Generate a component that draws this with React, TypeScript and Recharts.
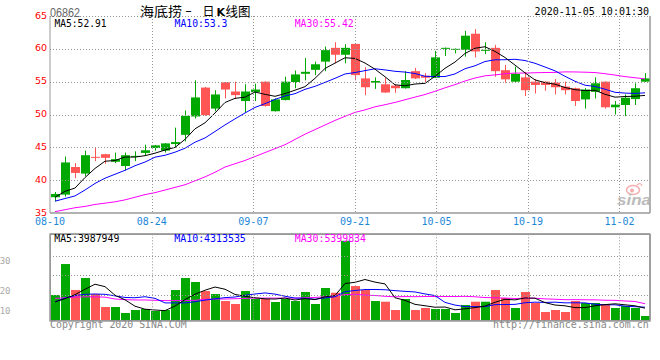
import React from 'react';
import { ComposedChart, Bar, Line, XAxis, YAxis, ReferenceArea } from 'recharts';

const dates = ['08-10','08-11','08-12','08-13','08-14','08-17','08-18','08-19','08-20','08-21','08-24','08-25','08-26','08-27','08-28','08-31','09-01','09-02','09-03','09-04','09-07','09-08','09-09','09-10','09-11','09-14','09-15','09-16','09-17','09-18','09-21','09-22','09-23','09-24','09-25','09-28','09-29','09-30','10-05','10-06','10-07','10-08','10-09','10-12','10-14','10-15','10-16','10-19','10-20','10-21','10-22','10-23','10-27','10-28','10-29','10-30','11-02','11-03','11-04','11-05'];

const opens = [37.4,37.8,42.0,41.0,43.55,43.95,42.8,42.15,43.6,44.15,44.9,44.5,45.5,46.9,49.7,54.1,50.9,54.9,53.5,52.05,53.4,55.0,50.5,52.2,54.95,56.2,56.8,58.05,60.15,59.1,60.75,55.5,54.85,54.6,54.4,54.0,56.6,55.9,55.6,60.0,59.85,59.85,62.3,59.7,60.15,56.75,55.0,55.65,55.0,55.0,54.85,54.25,54.0,52.3,53.45,55.0,51.1,51.45,52.35,55.0];
const closes = [37.9,42.7,41.1,43.8,43.45,43.4,43.2,43.8,43.7,44.55,45.3,45.6,45.8,49.8,52.6,49.9,53.05,53.8,52.95,53.5,53.8,51.3,52.3,55.0,56.1,56.5,57.65,59.8,59.1,60.15,56.0,54.15,55.1,53.35,54.0,55.25,55.5,55.6,58.7,60.15,60.0,62.0,59.6,59.85,56.6,55.35,56.2,53.7,54.5,54.5,54.15,53.7,52.05,53.8,54.75,51.1,51.5,52.55,54.0,55.5];
const highs = [38.2,43.6,42.6,44.5,44.9,44.0,44.2,44.2,44.4,45.4,45.35,45.65,48.0,50.6,55.2,54.2,53.7,54.95,55.0,54.6,54.7,55.05,52.45,55.75,56.7,58.6,58.05,60.35,61.0,60.7,60.8,57.2,55.65,55.6,54.6,56.6,57.1,56.3,59.7,60.2,60.05,62.75,63.0,61.0,60.6,57.55,57.3,56.5,55.4,55.05,55.4,55.0,54.1,54.0,55.65,55.05,52.05,53.05,54.75,56.3];
const lows = [36.8,37.5,40.3,40.6,42.9,42.5,42.6,41.5,42.9,43.8,44.5,44.2,45.0,45.9,49.4,49.8,50.5,52.45,52.35,50.3,52.05,51.2,50.45,52.15,54.0,55.2,56.0,56.6,57.8,57.8,55.2,52.95,53.9,53.3,53.3,53.95,55.4,54.9,55.55,58.9,59.3,58.8,58.7,59.2,55.75,54.85,54.95,52.8,53.2,53.6,53.05,53.05,51.3,50.9,52.45,50.9,50.0,49.75,51.45,54.95];

const ma5 = [37.4,38.3,38.8,40.4,41.79,42.89,42.99,43.53,43.51,43.73,44.11,44.59,44.99,46.21,47.82,48.74,50.23,51.83,52.46,52.64,53.42,53.07,52.77,53.18,53.7,54.24,55.51,57.01,57.83,58.64,58.54,57.84,56.9,55.75,54.52,54.37,54.64,54.74,55.81,57.04,57.99,59.29,60.09,60.32,59.61,58.68,57.52,56.34,55.27,54.85,54.61,54.11,53.78,53.64,53.69,53.08,52.64,52.74,52.78,52.91];
const ma10 = [36.8,37.2,37.6,38.5,39.5,40.3,40.9,41.5,42.2,42.76,43.5,43.79,44.26,44.86,45.78,46.43,47.41,48.41,49.34,50.23,51.08,51.65,52.3,52.82,53.17,53.83,54.29,54.89,55.51,56.17,56.39,56.68,56.96,56.79,56.58,56.46,56.24,55.82,55.78,55.78,56.18,56.97,57.42,58.07,58.33,58.34,58.41,58.22,57.8,57.23,56.65,55.82,55.06,54.46,54.27,53.85,53.38,53.26,53.21,53.3];
const ma30 = [35.2,35.5,35.8,36.0,36.3,36.5,36.7,37.0,37.4,37.8,38.1,38.5,38.9,39.3,39.9,40.5,41.2,42.0,42.5,43.0,43.6,44.2,44.8,45.4,46.2,47.0,47.7,48.4,49.1,49.72,50.32,50.7,51.17,51.49,51.84,52.24,52.65,53.04,53.54,54.06,54.55,55.1,55.56,55.89,56.03,56.21,56.31,56.31,56.36,56.39,56.41,56.49,56.48,56.44,56.39,56.21,56.01,55.77,55.6,55.42];

// volume, millions of shares
const volumes = [8.17,18.03,9.76,13.58,8.49,4.36,4.36,2.45,3.40,3.72,3.08,3.40,9.76,13.58,12.31,9.44,8.49,6.26,5.31,9.44,6.90,6.90,5.95,6.90,6.26,9.13,5.31,10.40,8.90,25.44,11.03,9.76,6.26,6.04,3.40,6.90,3.40,4.04,3.72,3.72,2.45,4.99,6.04,6.04,9.76,7.22,4.04,9.13,5.63,2.77,3.40,2.77,6.26,5.63,5.63,5.31,4.04,4.67,4.04,1.49];
const vma5 = [6.0,7.0,8.3,10.0,11.61,10.84,8.11,6.65,4.61,3.66,3.40,3.21,4.67,6.71,8.43,9.70,10.72,10.02,8.36,7.79,7.28,6.96,6.90,7.22,6.58,7.03,6.71,7.60,8.00,11.84,12.22,13.11,12.28,11.71,7.30,6.47,5.20,4.76,4.29,4.36,3.47,3.78,4.18,4.65,5.86,6.81,6.62,7.24,7.16,5.76,4.99,4.74,4.17,4.17,4.74,5.12,5.37,5.06,4.74,3.99];
const vma10 = [6.0,7.2,8.0,8.4,8.5,8.4,7.9,7.4,7.3,7.63,7.12,5.66,5.66,5.66,6.04,6.55,6.96,7.34,7.54,8.11,8.49,8.84,8.46,7.79,7.19,7.15,6.84,7.25,7.61,9.21,9.62,9.91,9.94,9.85,9.57,9.34,9.15,8.52,8.0,5.83,4.97,4.49,4.47,4.47,5.11,5.14,5.2,5.71,5.9,5.81,5.9,5.68,5.7,5.66,5.25,5.06,5.06,4.61,4.45,4.31];
const vma30 = [7.1,7.3,7.5,7.6,7.6,7.5,6.9,6.7,6.6,6.6,6.5,6.4,6.4,6.4,6.5,6.8,6.9,6.9,7.0,7.1,7.2,7.2,7.2,7.2,7.2,7.3,7.4,7.6,7.8,8.32,8.41,8.14,8.02,7.77,7.6,7.68,7.65,7.7,7.71,7.71,7.69,7.75,7.62,7.37,7.29,7.21,7.06,7.16,7.17,6.95,6.83,6.69,6.7,6.66,6.64,6.51,6.47,6.28,6.12,5.40];

const priceTicks = [35, 40, 45, 50, 55, 60, 65];
const dateTickIdx = [0, 10, 20, 30, 38, 47, 56];
const gridMax = 59;
const volMax = 27.5;
const volGridTicks = [8.2, 14.5, 20.7];
const volAxisLabels = ['30', '20', '10'];
const stockCode = '06862';
const titleParts = ['海底捞', '-', '日', 'K', '线图'];
const timestamp = '2020-11-05 10:01:30';
const priceLegend = ['MA5:52.91', 'MA10:53.3', 'MA30:55.42'];
const volLegend = ['MA5:3987949', 'MA10:4313535', 'MA30:5399834'];
const copyright = 'Copyright 2020 SINA.COM';
const url = 'http://finance.sina.com.cn';

// layout
const PLOT_L = 50;
const PLOT_R = 650;
const P_TOP = 16;
const P_BOT = 213;
const V_TOP = 4.3;
const V_BOT = 90.7;

const UP = '#00a800';
const DOWN = '#ff5555';
const GRID = '#959595';
const FRAME = '#999999';
const MONO = "'DejaVu Sans Mono', 'Liberation Mono', monospace";
const CJK = "'Noto Sans CJK SC', sans-serif";

const data = dates.map((d, i) => ({
  date: d,
  open: opens[i],
  close: closes[i],
  high: highs[i],
  low: lows[i],
  ma5: ma5[i],
  ma10: ma10[i],
  ma30: ma30[i],
  vol: volumes[i],
  vma5: vma5[i],
  vma10: vma10[i],
  vma30: vma30[i],
}));

const Candle = (props: any) => {
  const { x, y, width, height, payload } = props;
  if (!payload || height == null) return null;
  const { open, close, high, low } = payload;
  const color = close >= open ? UP : DOWN;
  const k = height / (high - low);
  const yO = y + (high - open) * k;
  const yC = y + (high - close) * k;
  const top = Math.min(yO, yC);
  const h = Math.max(Math.abs(yO - yC), 1);
  const left = Math.floor(x);
  const w = Math.round(width);
  return (
    <g>
      <rect x={left + Math.floor(w / 2)} y={y} width={1} height={Math.max(height, 1)} fill={color} />
      <rect x={left} y={top} width={w} height={h} fill={color} />
    </g>
  );
};

const VolBar = (props: any) => {
  const { x, y, width, height, payload } = props;
  if (!payload) return null;
  const color = payload.close >= payload.open ? UP : DOWN;
  return <rect x={Math.floor(x)} y={y} width={Math.round(width)} height={Math.max(height, 0)} fill={color} />;
};

// price y ticks: red label + dotted horizontal grid line
const PriceTick = (props: any) => {
  const { x, y, payload } = props;
  const ly = Math.round(y) + 0.5;
  return (
    <g>
      {payload.value !== 35 && (
        <line x1={PLOT_L} x2={PLOT_R} y1={ly} y2={ly} stroke={GRID} strokeWidth={1} strokeDasharray="1 2" />
      )}
      <text x={x} y={y + 2.5} textAnchor="end" fontSize={9.5} fontFamily="'DejaVu Sans', sans-serif" fill="#ff0000">
        {payload.value}
      </text>
    </g>
  );
};

// date ticks: blue label + dotted vertical grid line; the last tick is the right frame edge
const makeDateTick = (top: number, bottom: number, withLabel: boolean) => (props: any) => {
  const { x, y, payload } = props;
  const v = payload.value;
  const lx = Math.round(x) + 0.5;
  if (v === gridMax) {
    return <line x1={lx - 0.5} x2={lx - 0.5} y1={top} y2={bottom} stroke={FRAME} strokeWidth={1.5} />;
  }
  return (
    <g>
      {v === 0 ? (
        withLabel ? null : <line x1={lx} x2={lx} y1={top} y2={bottom} stroke={FRAME} strokeWidth={1} />
      ) : (
        <line x1={lx} x2={lx} y1={top} y2={bottom} stroke={GRID} strokeWidth={1} strokeDasharray="1 2" />
      )}
      {withLabel && (
        <text x={x} y={y + 7.1} textAnchor="middle" fontSize={10} fontFamily={MONO} fill="#1e88d8">
          {dates[v]}
        </text>
      )}
    </g>
  );
};

const VolGridTick = (props: any) => {
  const { y, payload } = props;
  const ly = Math.round(y) + 0.5;
  if (payload.value === volMax) {
    return <line x1={PLOT_L} x2={PLOT_R} y1={ly - 0.5} y2={ly - 0.5} stroke={FRAME} strokeWidth={1.5} />;
  }
  return <line x1={PLOT_L} x2={PLOT_R} y1={ly} y2={ly} stroke={GRID} strokeWidth={1} strokeDasharray="1 2" />;
};

const maLine = (key: string, color: string, yId: string) => (
  <Line
    xAxisId="cat"
    yAxisId={yId}
    type="linear"
    dataKey={key}
    stroke={color}
    strokeWidth={1}
    dot={false}
    activeDot={false}
    isAnimationActive={false}
  />
);

const PriceDateTick = makeDateTick(P_TOP, P_BOT, true);
const VolDateTick = makeDateTick(V_TOP, V_BOT, false);

export default function App() {
  return (
    <div style={{ position: 'absolute', left: 0, top: 0, width: 660, height: 360, background: '#fff' }}>
      <div style={{ position: 'absolute', left: 0, top: 0 }}>
        <ComposedChart width={660} height={230} data={data} margin={{ top: P_TOP, right: 660 - PLOT_R, bottom: 0, left: 0 }}>
          <XAxis
            xAxisId="grid"
            type="number"
            domain={[0, gridMax]}
            allowDataOverflow
            ticks={[...dateTickIdx, gridMax]}
            interval={0}
            height={17}
            tickSize={5}
            tickMargin={0}
            tickLine={false}
            axisLine={{ stroke: FRAME, strokeWidth: 1.5 }}
            tick={(p: any) => <PriceDateTick {...p} />}
          />
          <XAxis xAxisId="cat" dataKey="date" hide height={0} />
          <YAxis
            yAxisId="price"
            domain={[35, 65]}
            allowDataOverflow
            ticks={priceTicks}
            interval={0}
            width={PLOT_L}
            tickSize={3}
            tickMargin={0}
            tickLine={false}
            axisLine={{ stroke: FRAME }}
            tick={(p: any) => <PriceTick {...p} />}
          />
          <Bar
            xAxisId="cat"
            yAxisId="price"
            dataKey={(d: any) => [d.low, d.high]}
            barSize={9}
            shape={(p: any) => <Candle {...p} />}
            isAnimationActive={false}
          />
          {maLine('ma30', '#ff00ff', 'price')}
          {maLine('ma10', '#0000ff', 'price')}
          {maLine('ma5', '#000000', 'price')}
        </ComposedChart>
      </div>
      <div style={{ position: 'absolute', left: 0, top: 230 }}>
        <ComposedChart width={660} height={96} data={data} margin={{ top: V_TOP, right: 660 - PLOT_R, bottom: 96 - V_BOT - 1, left: PLOT_L - 1 }}>
          <XAxis
            xAxisId="grid"
            type="number"
            domain={[0, gridMax]}
            allowDataOverflow
            ticks={[...dateTickIdx, gridMax]}
            interval={0}
            height={1}
            tickSize={0}
            tickMargin={0}
            tickLine={false}
            axisLine={{ stroke: FRAME, strokeWidth: 1.5 }}
            tick={(p: any) => <VolDateTick {...p} />}
          />
          <XAxis xAxisId="cat" dataKey="date" hide height={0} />
          <YAxis
            yAxisId="vol"
            domain={[0, volMax]}
            allowDataOverflow
            ticks={[...volGridTicks, volMax]}
            interval={0}
            width={1}
            tickSize={0}
            tickMargin={0}
            tickLine={false}
            axisLine={false}
            tick={(p: any) => <VolGridTick {...p} />}
          />
          <ReferenceArea xAxisId="grid" yAxisId="vol" x1={0} x2={gridMax} y1={0} y2={volMax} fill="none" stroke={FRAME} strokeWidth={1.5} />
          <Bar
            xAxisId="cat"
            yAxisId="vol"
            dataKey="vol"
            barSize={9}
            shape={(p: any) => <VolBar {...p} />}
            isAnimationActive={false}
          />
          {maLine('vma30', '#ff00ff', 'vol')}
          {maLine('vma10', '#0000ff', 'vol')}
          {maLine('vma5', '#000000', 'vol')}
        </ComposedChart>
      </div>
      <svg width={660} height={360} style={{ position: 'absolute', left: 0, top: 0, pointerEvents: 'none' }}>
        <text x={50} y={16.5} fontSize={13} fontFamily="'Liberation Sans', Arial, sans-serif" fill="#666" textLength={30} lengthAdjust="spacingAndGlyphs">{stockCode}</text>
        <text x={140} y={16} fontSize={13} fontFamily={CJK} fill="#000" textLength={42} lengthAdjust="spacingAndGlyphs">{titleParts[0]}</text>
        <text x={185} y={15} fontSize={13} fontFamily={CJK} fill="#000" textLength={7} lengthAdjust="spacingAndGlyphs">{titleParts[1]}</text>
        <text x={202.5} y={16} fontSize={12} fontFamily={CJK} fill="#000">{titleParts[2]}</text>
        <text x={216.5} y={16} fontSize={11} fontWeight="bold" fontFamily="'DejaVu Sans', sans-serif" fill="#000">{titleParts[3]}</text>
        <text x={225.5} y={16} fontSize={13} fontFamily={CJK} fill="#000" textLength={25} lengthAdjust="spacingAndGlyphs">{titleParts[4]}</text>
        <text x={649} y={15} fontSize={10} fontFamily={MONO} fill="#000" textAnchor="end">{timestamp}</text>

        <text x={54.5} y={27} fontSize={10} fontFamily={MONO} fill="#000" textLength={52} lengthAdjust="spacingAndGlyphs">{priceLegend[0]}</text>
        <text x={174.5} y={27} fontSize={10} fontFamily={MONO} fill="#0000ff" textLength={53} lengthAdjust="spacingAndGlyphs">{priceLegend[1]}</text>
        <text x={294.7} y={27} fontSize={10} fontFamily={MONO} fill="#ff00ff" textLength={59} lengthAdjust="spacingAndGlyphs">{priceLegend[2]}</text>

        <text x={54.3} y={242} fontSize={10} fontFamily={MONO} fill="#000" textLength={65} lengthAdjust="spacingAndGlyphs">{volLegend[0]}</text>
        <text x={174.3} y={242} fontSize={10} fontFamily={MONO} fill="#0000ff" textLength={71.5} lengthAdjust="spacingAndGlyphs">{volLegend[1]}</text>
        <text x={294.7} y={242} fontSize={10} fontFamily={MONO} fill="#ff00ff" textLength={71.3} lengthAdjust="spacingAndGlyphs">{volLegend[2]}</text>

        <text x={10.5} y={263.5} fontSize={9} fontFamily={MONO} fill="#aaa" textAnchor="end">{volAxisLabels[0]}</text>
        <text x={10.5} y={293.5} fontSize={9} fontFamily={MONO} fill="#aaa" textAnchor="end">{volAxisLabels[1]}</text>
        <text x={10.5} y={313.5} fontSize={9} fontFamily={MONO} fill="#aaa" textAnchor="end">{volAxisLabels[2]}</text>

        <text x={50} y={327.5} fontSize={10} fontFamily={MONO} fill="#888" textLength={136.7} lengthAdjust="spacingAndGlyphs">{copyright}</text>
        <text x={493} y={328} fontSize={10} fontFamily={MONO} fill="#888" textLength={155.7} lengthAdjust="spacingAndGlyphs">{url}</text>

        <g opacity={0.85}>
          <ellipse cx={633} cy={190} rx={6.5} ry={4.5} fill="none" stroke="#f4a0a0" strokeWidth={1.5} />
          <circle cx={632} cy={190.5} r={2} fill="#f4a0a0" />
          <path d="M637 185 q4 -3 5 1" fill="none" stroke="#f4a0a0" strokeWidth={1.2} />
          <text x={617} y={205} fontSize={14} fontStyle="italic" fontWeight="bold" fontFamily="'Liberation Sans', Arial, sans-serif" fill="#b0b0b0" textLength={34} lengthAdjust="spacingAndGlyphs">sina</text>
        </g>
      </svg>
    </div>
  );
}
